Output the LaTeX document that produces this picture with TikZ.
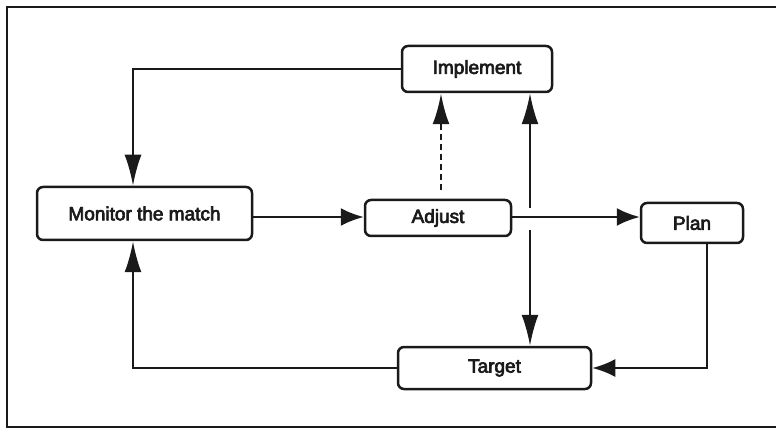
\documentclass[tikz,border=0pt]{standalone}
\usepackage{fontspec}
\setmainfont{Liberation Sans}[FakeBold=3.5]
\usetikzlibrary{arrows.meta}
\definecolor{ink}{HTML}{1A1A1A}
\tikzset{
  box/.style={draw=ink, line width=2.5pt, rounded corners=6pt, inner sep=0pt,
    font=\fontsize{19}{21}\selectfont, text=ink},
  link/.style={draw=ink, line width=2.2pt},
  vtip/.style={-{Latex[length=31pt,width=17pt]}},
  htip/.style={-{Latex[length=23pt,width=18pt]}},
  dashlink/.style={link, dash pattern=on 6pt off 4pt, line width=2.8pt}
}
\begin{document}
\begin{tikzpicture}[x=1pt,y=-1pt]
  \useasboundingbox (0,0) rectangle (776,430);
  % outer frame, open on the right
  \draw[ink, line width=2.2pt] (776,7) -- (7,7) -- (7,427) -- (776,427);

  % boxes
  \node[box, minimum width=150pt, minimum height=46pt] (impl) at (477,69) {Implement};
  \node[box, minimum width=215pt, minimum height=53pt] (mon) at (144.5,213.5) {Monitor the match};
  \node[box, minimum width=146pt, minimum height=36pt] (adj) at (438,218) {Adjust};
  \node[box, minimum width=102pt, minimum height=40pt] (plan) at (692,223) {Plan};
  \node[box, minimum width=193pt, minimum height=42pt] (tgt) at (494.5,368) {Target};

  % helper coordinates
  \coordinate (row) at (0,217);
  \coordinate (lcol) at (133,0);
  \coordinate (vcol) at (530,0);
  \coordinate (rcol) at (707,0);
  \coordinate (upfrom) at (530,208);
  \coordinate (downfrom) at (530,230);
  \coordinate (dashfrom) at (441,190);

  % connectors
  \draw[link, vtip] (impl.west) -| (mon.north -| lcol);
  \draw[link, htip] (mon.east |- row) -- (adj.west |- row);
  \draw[link, htip] (adj.east |- row) -- (plan.west |- row);
  \draw[dashlink, vtip] (dashfrom) -- (impl.south -| dashfrom);
  \draw[link, vtip] (upfrom) -- (impl.south -| vcol);
  \draw[link, vtip] (downfrom) -- (tgt.north -| vcol);
  \draw[link, htip] (plan.south -| rcol) |- (tgt.east);
  \draw[link, vtip] (tgt.west) -| (mon.south -| lcol);
\end{tikzpicture}
\end{document}
